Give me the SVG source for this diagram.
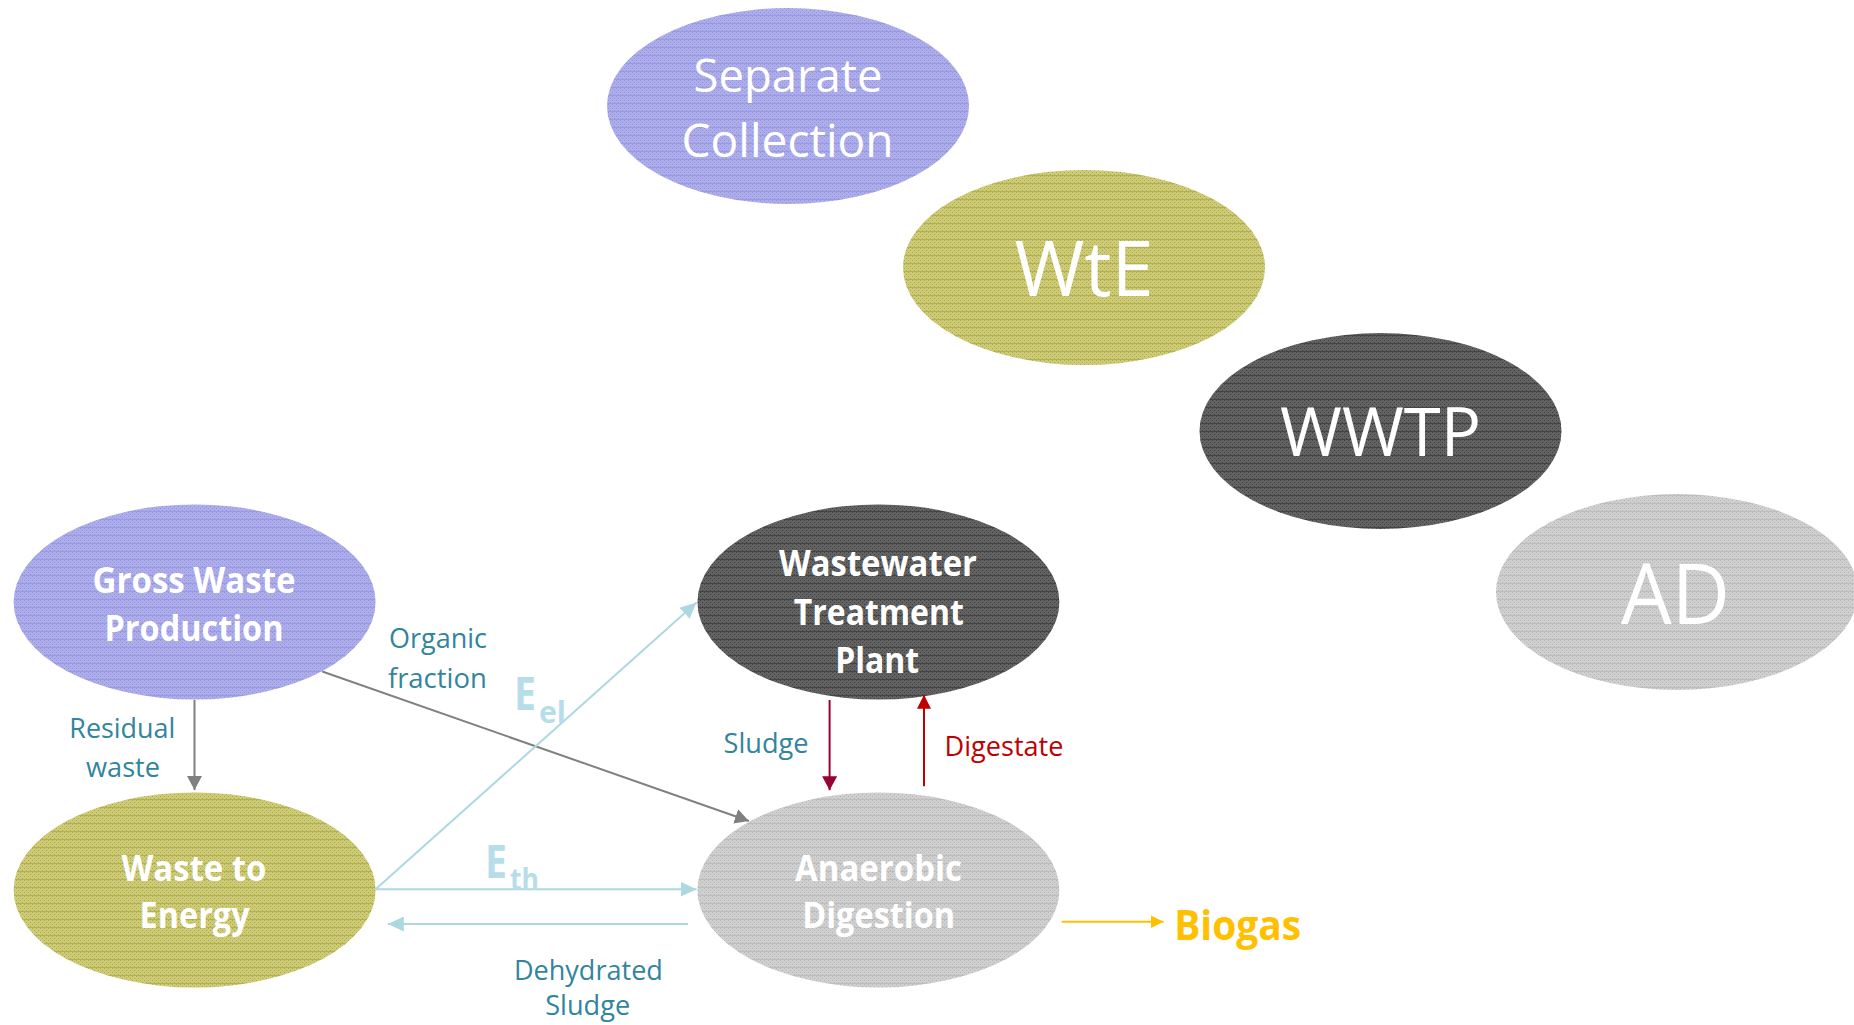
<svg xmlns="http://www.w3.org/2000/svg" width="1854" height="1025" viewBox="0 0 1854 1025">
  <style>
    .node-label { font-family: "Open Sans", "Noto Sans", "Liberation Sans", sans-serif; fill: #FFFFFF; text-anchor: middle; }
    .tag { font-weight: 400; }
    .bold { font-weight: 700; font-size: 35px; }
    .flow { font-family: "Open Sans", "Noto Sans", "Liberation Sans", sans-serif; font-size: 28px; text-anchor: middle; }
    .teal { fill: #31859C; }
    .red { fill: #C00000; }
    .energy { font-family: "Open Sans", "Noto Sans", "Liberation Sans", sans-serif; font-weight: 700; fill: #B7DEE8; }
    .biogas { font-family: "Open Sans", "Noto Sans", "Liberation Sans", sans-serif; font-weight: 700; font-size: 42px; fill: #FFC000; text-anchor: middle; }
    .link { fill: none; stroke-width: 2; }
    .gray { stroke: #808080; }
    .cyan { stroke: #ADD8E0; }
    .crimson { stroke: #990033; }
    .scarlet { stroke: #C00000; }
    .amber { stroke: #FFC000; }
  </style>
  <defs>
    <!-- dotted mesh textures with a faint horizontal rule every 8px -->
    <pattern id="fill-blue" patternUnits="userSpaceOnUse" width="4" height="8">
      <rect width="4" height="8" fill="#ADADEC"/>
      <rect x="0" y="0" width="1" height="1" fill="#9292DC"/>
      <rect x="2" y="2" width="1" height="1" fill="#9292DC"/>
      <rect x="0" y="4" width="1" height="1" fill="#9292DC"/>
      <rect x="2" y="6" width="1" height="1" fill="#9292DC"/>
      <rect y="7" width="4" height="1" fill="#9A9AE0"/>
    </pattern>
    <pattern id="fill-olive" patternUnits="userSpaceOnUse" width="4" height="8">
      <rect width="4" height="8" fill="#CDCB78"/>
      <rect x="0" y="0" width="1" height="1" fill="#ABA845"/>
      <rect x="2" y="2" width="1" height="1" fill="#ABA845"/>
      <rect x="0" y="4" width="1" height="1" fill="#ABA845"/>
      <rect x="2" y="6" width="1" height="1" fill="#ABA845"/>
      <rect y="7" width="4" height="1" fill="#B3B050"/>
    </pattern>
    <pattern id="fill-dark" patternUnits="userSpaceOnUse" width="4" height="8">
      <rect width="4" height="8" fill="#626262"/>
      <rect x="0" y="0" width="1" height="1" fill="#3E3E3E"/>
      <rect x="2" y="2" width="1" height="1" fill="#3E3E3E"/>
      <rect x="0" y="4" width="1" height="1" fill="#3E3E3E"/>
      <rect x="2" y="6" width="1" height="1" fill="#3E3E3E"/>
      <rect y="7" width="4" height="1" fill="#444444"/>
    </pattern>
    <pattern id="fill-light" patternUnits="userSpaceOnUse" width="4" height="8">
      <rect width="4" height="8" fill="#CFCFCF"/>
      <rect x="0" y="0" width="1" height="1" fill="#B5B5B5"/>
      <rect x="2" y="2" width="1" height="1" fill="#B5B5B5"/>
      <rect x="0" y="4" width="1" height="1" fill="#B5B5B5"/>
      <rect x="2" y="6" width="1" height="1" fill="#B5B5B5"/>
      <rect y="7" width="4" height="1" fill="#BDBDBD"/>
    </pattern>
    <marker id="arr-gray" markerUnits="userSpaceOnUse" markerWidth="14" markerHeight="15" refX="14" refY="7.5" orient="auto">
      <path d="M0,0 L14,7.5 L0,15 z" fill="#808080"/>
    </marker>
    <marker id="arr-cyan" markerUnits="userSpaceOnUse" markerWidth="16" markerHeight="15" refX="16" refY="7.5" orient="auto">
      <path d="M0,0 L16,7.5 L0,15 z" fill="#ADD8E0"/>
    </marker>
    <marker id="arr-crimson" markerUnits="userSpaceOnUse" markerWidth="14" markerHeight="15" refX="14" refY="7.5" orient="auto">
      <path d="M0,0 L14,7.5 L0,15 z" fill="#990033"/>
    </marker>
    <marker id="arr-scarlet" markerUnits="userSpaceOnUse" markerWidth="14" markerHeight="14" refX="14" refY="7" orient="auto">
      <path d="M0,0 L14,7 L0,14 z" fill="#C00000"/>
    </marker>
    <marker id="arr-amber" markerUnits="userSpaceOnUse" markerWidth="13" markerHeight="13" refX="13" refY="6.5" orient="auto">
      <path d="M0,0 L13,6.5 L0,13 z" fill="#FFC000"/>
    </marker>
  </defs>

  <rect width="1854" height="1025" fill="#FFFFFF"/>

  <!-- tag ellipses along the diagonal -->
  <g id="tag-separate-collection">
    <ellipse cx="788" cy="106" rx="181" ry="98" fill="url(#fill-blue)"/>
    <text class="node-label tag" x="788" y="92" font-size="45" textLength="189" lengthAdjust="spacingAndGlyphs">Separate</text>
    <text class="node-label tag" x="787.5" y="157" font-size="45" textLength="212" lengthAdjust="spacingAndGlyphs">Collection</text>
  </g>
  <g id="tag-wte">
    <ellipse cx="1084" cy="267.5" rx="181" ry="97.5" fill="url(#fill-olive)"/>
    <text class="node-label tag" x="1084" y="296" font-size="76" textLength="139" lengthAdjust="spacingAndGlyphs">WtE</text>
  </g>
  <g id="tag-wwtp">
    <ellipse cx="1380.5" cy="431" rx="181" ry="98" fill="url(#fill-dark)"/>
    <text class="node-label tag" x="1380.5" y="456" font-size="67" textLength="201" lengthAdjust="spacingAndGlyphs">WWTP</text>
  </g>
  <g id="tag-ad">
    <ellipse cx="1677" cy="592" rx="181" ry="98" fill="url(#fill-light)"/>
    <text class="node-label tag" x="1675.5" y="624" font-size="84" textLength="109" lengthAdjust="spacingAndGlyphs">AD</text>
  </g>

  <!-- process nodes -->
  <g id="node-gross-waste">
    <ellipse cx="194.6" cy="602" rx="181" ry="97.5" fill="url(#fill-blue)"/>
    <text class="node-label bold" x="194" y="592.5" textLength="203" lengthAdjust="spacingAndGlyphs">Gross Waste</text>
    <text class="node-label bold" x="194" y="640.5" textLength="179" lengthAdjust="spacingAndGlyphs">Production</text>
  </g>
  <g id="node-waste-to-energy">
    <ellipse cx="194.6" cy="890" rx="181" ry="97.5" fill="url(#fill-olive)"/>
    <text class="node-label bold" x="194" y="881" textLength="145" lengthAdjust="spacingAndGlyphs">Waste to</text>
    <text class="node-label bold" x="194.6" y="928" textLength="110" lengthAdjust="spacingAndGlyphs">Energy</text>
  </g>
  <g id="node-wastewater-plant">
    <ellipse cx="878.4" cy="602" rx="181" ry="97.5" fill="url(#fill-dark)"/>
    <text class="node-label bold" x="878" y="575.5" textLength="198" lengthAdjust="spacingAndGlyphs">Wastewater</text>
    <text class="node-label bold" x="878.8" y="625" textLength="170" lengthAdjust="spacingAndGlyphs">Treatment</text>
    <text class="node-label bold" x="877.2" y="672.7" textLength="84" lengthAdjust="spacingAndGlyphs">Plant</text>
  </g>
  <g id="node-anaerobic-digestion">
    <ellipse cx="878.4" cy="890" rx="181" ry="97.5" fill="url(#fill-light)"/>
    <text class="node-label bold" x="878.5" y="881" textLength="167" lengthAdjust="spacingAndGlyphs" fill="#F4F4F4">Anaerobic</text>
    <text class="node-label bold" x="878.7" y="928" textLength="153" lengthAdjust="spacingAndGlyphs" fill="#F4F4F4">Digestion</text>
  </g>
  <g id="node-biogas">
    <text class="biogas" x="1237.7" y="940" textLength="127" lengthAdjust="spacingAndGlyphs">Biogas</text>
  </g>

  <!-- flows between the nodes -->
  <g id="connectors">
    <path class="link gray" d="M194.5,700 L194.5,790" marker-end="url(#arr-gray)"/>
    <path class="link gray" d="M322.3,671.5 L748.9,821" marker-end="url(#arr-gray)"/>
    <path class="link cyan" d="M375.6,889.2 L696.5,602.6" marker-end="url(#arr-cyan)"/>
    <path class="link cyan" d="M375.6,889.2 L696.5,889.2" marker-end="url(#arr-cyan)"/>
    <path class="link cyan" d="M688,924 L387.8,924" marker-end="url(#arr-cyan)"/>
    <path class="link crimson" d="M829.6,700 L829.6,790.2" marker-end="url(#arr-crimson)"/>
    <path class="link scarlet" d="M924,786.2 L924,694.7" marker-end="url(#arr-scarlet)"/>
    <path class="link amber" d="M1061.7,921.7 L1163.6,921.7" marker-end="url(#arr-amber)"/>

    <text class="flow teal" x="438" y="647.6" textLength="98" lengthAdjust="spacingAndGlyphs">Organic</text>
    <text class="flow teal" x="437.4" y="687.6" textLength="99" lengthAdjust="spacingAndGlyphs">fraction</text>
    <text class="flow teal" x="122.3" y="737.7" textLength="106" lengthAdjust="spacingAndGlyphs">Residual</text>
    <text class="flow teal" x="123" y="776.6" textLength="74" lengthAdjust="spacingAndGlyphs">waste</text>
    <text class="flow teal" x="766" y="753" textLength="85" lengthAdjust="spacingAndGlyphs">Sludge</text>
    <text class="flow red" x="1004" y="756" textLength="119" lengthAdjust="spacingAndGlyphs">Digestate</text>
    <text class="flow teal" x="588.4" y="979.5" textLength="149" lengthAdjust="spacingAndGlyphs">Dehydrated</text>
    <text class="flow teal" x="587.7" y="1015" textLength="85" lengthAdjust="spacingAndGlyphs">Sludge</text>

    <!-- energy symbols with subscripts -->
    <text class="energy" x="514" y="709.7" font-size="46" textLength="22" lengthAdjust="spacingAndGlyphs">E</text>
    <text class="energy" x="539" y="723.4" font-size="31" textLength="27" lengthAdjust="spacingAndGlyphs">el</text>
    <text class="energy" x="485" y="877.5" font-size="46" textLength="22" lengthAdjust="spacingAndGlyphs">E</text>
    <text class="energy" x="510" y="889.9" font-size="31" textLength="29" lengthAdjust="spacingAndGlyphs">th</text>
  </g>
</svg>
